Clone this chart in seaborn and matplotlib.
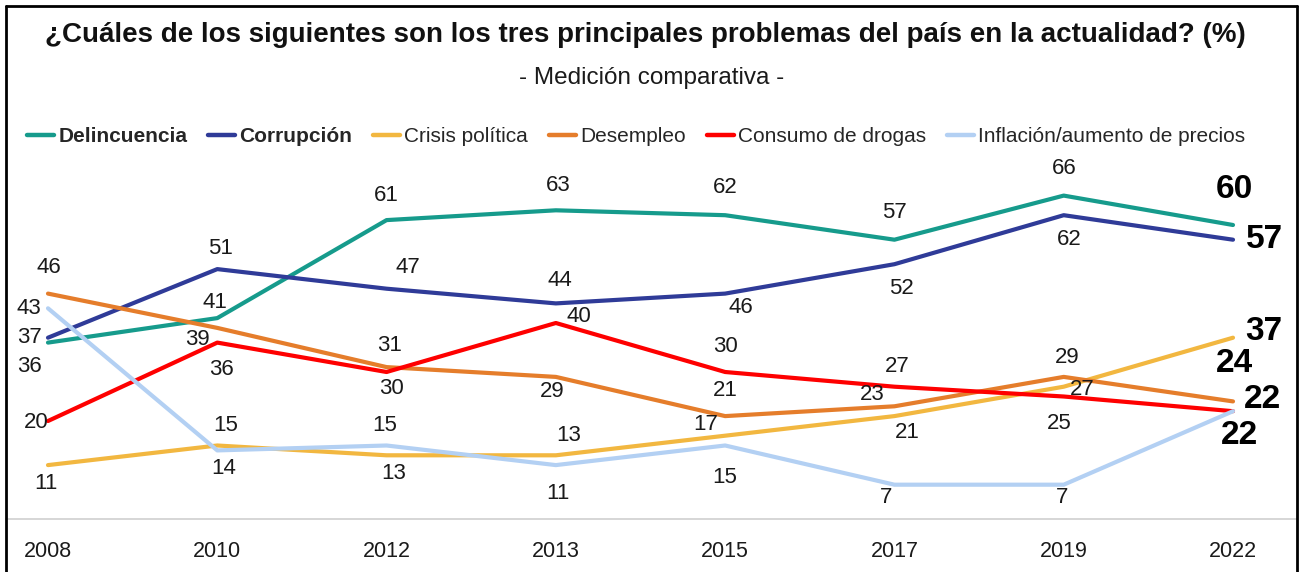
import matplotlib
matplotlib.use("Agg")
import matplotlib.pyplot as plt
from matplotlib.lines import Line2D
from matplotlib import font_manager
import pandas as pd
import seaborn as sns

# --- datos ---
years = ["2008", "2010", "2012", "2013", "2015", "2017", "2019", "2022"]
delincuencia = [36, 41, 61, 63, 62, 57, 66, 60]
corrupcion = [37, 51, 47, 44, 46, 52, 62, 57]
crisis_politica = [11, 15, 13, 13, 17, 21, 27, 37]
desempleo = [46, 39, 31, 29, 21, 23, 29, 24]
consumo_drogas = [20, 36, 30, 40, 30, 27, 25, 22]
inflacion = [43, 14, 15, 11, 15, 7, 7, 22]

series_names = ["Delincuencia", "Corrupción", "Crisis política", "Desempleo",
                "Consumo de drogas", "Inflación/aumento de precios"]
series_values = [delincuencia, corrupcion, crisis_politica, desempleo,
                 consumo_drogas, inflacion]
colors = ["#169b8c", "#2f3b98", "#f2b740", "#e57d2b", "#fe0000", "#b3d0f3"]

# posicion de cada etiqueta respecto a su punto (pixeles, y hacia arriba)
label_offsets = {
    "Delincuencia": [(-19, -24), (-2, 16), (0, 25), (2, 25), (0, 28), (0, 27), (1, 27), (1, 35)],
    "Corrupción": [(-19, 0), (3, 21), (21, 21), (4, 23), (16, -14), (7, -24), (6, -24), (31, 0)],
    "Crisis política": [(-2, -18), (8, 20), (7, -18), (13, 20), (-19, 11), (13, -16), (19, -3), (31, 6)],
    "Desempleo": [(1, 26), (-20, -12), (3, 22), (-4, -15), (0, 26), (-22, 12), (3, 19), (1, 38)],
    "Consumo de drogas": [(-12, -1), (4, -27), (5, -16), (23, 6), (0, 25), (3, 20), (-4, -27), (29, 12)],
    "Inflación/aumento de precios": [(-19, 0), (6, -18), (-2, 20), (2, -28), (0, -32), (-8, -13), (-2, -13), (6, -24)],
}

sns.set_theme(style="white")
plt.rcParams["font.family"] = ["Liberation Sans", "DejaVu Sans"]

names = {f.name for f in font_manager.fontManager.ttflist}
narrow = "Liberation Sans Narrow" in names
big_family = ["Liberation Sans Narrow", "Liberation Sans"] if narrow else ["Liberation Sans"]
big_size = 28 if narrow else 24

rows = []
for name, vals in zip(series_names, series_values):
    for i, (yr, v) in enumerate(zip(years, vals)):
        rows.append({"pos": i, "year": yr, "valor": v, "serie": name})
df = pd.DataFrame(rows)

W, H = 1303, 572
fig = plt.figure(figsize=(W / 100, H / 100), dpi=100)
fig.patch.set_facecolor("white")
ax = fig.add_axes([6 / W, 1 - 519 / H, 1291 / W, (519 - 160) / H])

palette = dict(zip(series_names, colors))
sns.lineplot(data=df, x="pos", y="valor", hue="serie", hue_order=series_names,
             palette=palette, linewidth=3.0, legend=False, sort=False, ax=ax)

ax.set_xlim(-42 / 169.3, 7 + 64 / 169.3)
ax.set_ylim(0, (519 - 160) / 4.9)
ax.set_xticks(range(len(years)))
ax.set_xticklabels(years, fontsize=15.5, color="#1a1a1a")
ax.set_yticks([])
ax.set_xlabel("")
ax.set_ylabel("")
ax.tick_params(axis="x", length=0, pad=16)
for side in ["top", "left", "right"]:
    ax.spines[side].set_visible(False)
ax.spines["bottom"].set_color("#cfcfcf")
ax.spines["bottom"].set_linewidth(1.2)
ax.set_facecolor("white")

# etiquetas de datos
last = len(years) - 1
for name, vals in zip(series_names, series_values):
    for i, v in enumerate(vals):
        dx, dy = label_offsets[name][i]
        if i == last:
            ax.annotate(str(v), xy=(i, v), xytext=(dx, dy), textcoords="offset pixels",
                        ha="center", va="center", fontsize=big_size, fontweight="bold",
                        family=big_family, color="black", annotation_clip=False)
        else:
            ax.annotate(str(v), xy=(i, v), xytext=(dx, dy), textcoords="offset pixels",
                        ha="center", va="center", fontsize=16, color="#1a1a1a",
                        annotation_clip=False)

# titulo y subtitulo
fig.text(645 / W, 1 - 35 / H,
         "¿Cuáles de los siguientes son los tres principales problemas del país en la actualidad? (%)",
         ha="center", va="center", fontsize=20, fontweight="bold", color="#111111")
fig.text(652 / W, 1 - 78 / H, "- Medición comparativa -",
         ha="center", va="center", fontsize=17.5, color="#1a1a1a")

# leyenda
handles = [Line2D([0], [0], color=c, lw=3.2) for c in colors]
leg = fig.legend(handles, series_names, loc="center", bbox_to_anchor=(636 / W, 1 - 137 / H),
                 ncol=6, frameon=False, fontsize=15, handlelength=1.3,
                 handletextpad=0.2, columnspacing=1.0)
for t in leg.get_texts()[:2]:
    t.set_fontweight("bold")

# marco negro
frame_kw = dict(transform=fig.transFigure, color="black", lw=2.0)
fig.add_artist(Line2D([6 / W, 6 / W], [0, 1 - 6 / H], **frame_kw))
fig.add_artist(Line2D([6 / W, 1297 / W], [1 - 6 / H, 1 - 6 / H], **frame_kw))
fig.add_artist(Line2D([1297 / W, 1297 / W], [0, 1 - 6 / H], **frame_kw))

fig.savefig("out.png", dpi=100, facecolor="white")
